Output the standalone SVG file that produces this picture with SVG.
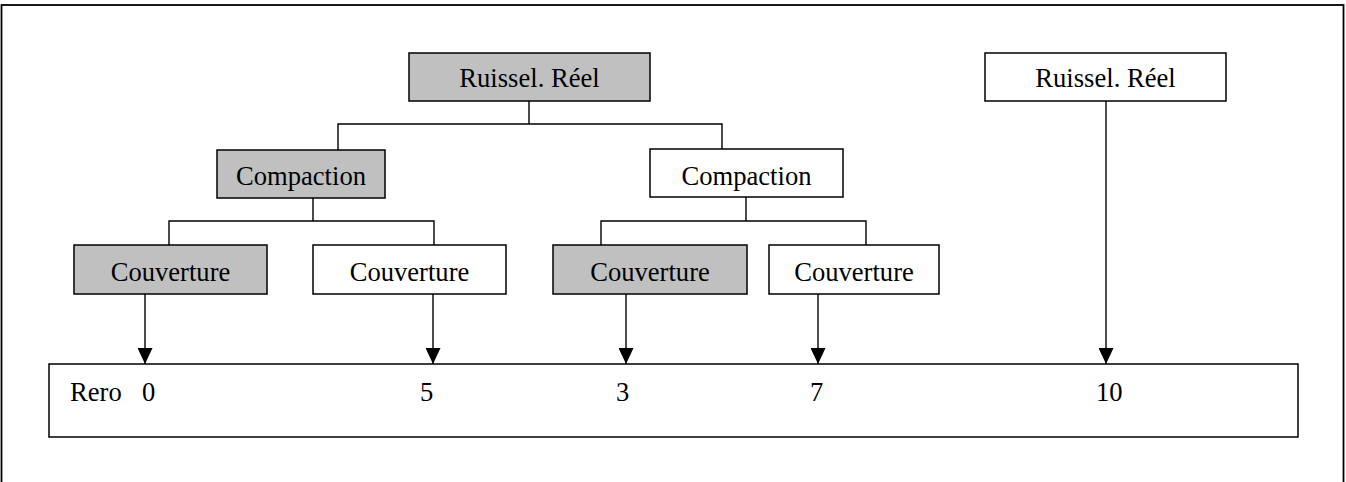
<svg xmlns="http://www.w3.org/2000/svg" width="1346" height="482" viewBox="0 0 1346 482">
<style>
.box{stroke:#000;stroke-width:1.5;fill:#fff}
.g{fill:#c0c0c0}
.t{font-family:"Liberation Serif",serif;font-size:26.6px;fill:#000}
.c{text-anchor:middle}
.ln{stroke:#000;stroke-width:1.4;fill:none}
</style>
<defs>
<marker id="ah" markerWidth="16" markerHeight="15" refX="16" refY="7.5" orient="auto" markerUnits="userSpaceOnUse">
<path d="M0,0 L16,7.5 L0,15 Z" fill="#000"/>
</marker>
</defs>
<rect x="0" y="0" width="1346" height="482" fill="#fff"/>
<rect x="1.5" y="5" width="1342" height="520" fill="none" stroke="#000" stroke-width="1.8"/>
<g id="connectors">
<path class="ln" d="M529,101 V124 M338,150 V124 H722 V149"/>
<path class="ln" d="M313,198 V221 M169,245 V221 H434 V245"/>
<path class="ln" d="M746,197 V221 M601,245 V221 H866 V245"/>
<line class="ln" x1="145" y1="294" x2="145" y2="364" marker-end="url(#ah)"/>
<line class="ln" x1="433" y1="294" x2="433" y2="364" marker-end="url(#ah)"/>
<line class="ln" x1="626" y1="294" x2="626" y2="364" marker-end="url(#ah)"/>
<line class="ln" x1="818" y1="294" x2="818" y2="364" marker-end="url(#ah)"/>
<line class="ln" x1="1106" y1="101" x2="1106" y2="364" marker-end="url(#ah)"/>
</g>
<g id="ruissel1"><rect class="box g" x="409" y="53" width="241" height="48"/><text class="t c" x="529.5" y="87">Ruissel. Réel</text></g>
<g id="ruissel2"><rect class="box" x="985" y="53" width="241" height="48"/><text class="t c" x="1105.5" y="87">Ruissel. Réel</text></g>
<g id="compaction1"><rect class="box g" x="217" y="150" width="168" height="48"/><text class="t c" x="301" y="185">Compaction</text></g>
<g id="compaction2"><rect class="box" x="650" y="149" width="193" height="48"/><text class="t c" x="746.5" y="185">Compaction</text></g>
<g id="couverture1"><rect class="box g" x="74" y="245" width="193" height="49"/><text class="t c" x="170.5" y="281">Couverture</text></g>
<g id="couverture2"><rect class="box" x="313" y="245" width="193" height="49"/><text class="t c" x="409.5" y="281">Couverture</text></g>
<g id="couverture3"><rect class="box g" x="553" y="245" width="194" height="49"/><text class="t c" x="650" y="281">Couverture</text></g>
<g id="couverture4"><rect class="box" x="769" y="245" width="170" height="49"/><text class="t c" x="854" y="281">Couverture</text></g>
<g id="rero">
<rect class="box" x="49" y="364" width="1249" height="73"/>
<text class="t" x="70" y="401">Rero</text>
<text class="t" x="142" y="401">0</text>
<text class="t" x="420" y="401">5</text>
<text class="t" x="616" y="401">3</text>
<text class="t" x="810" y="401">7</text>
<text class="t" x="1096" y="401">10</text>
</g>
</svg>
